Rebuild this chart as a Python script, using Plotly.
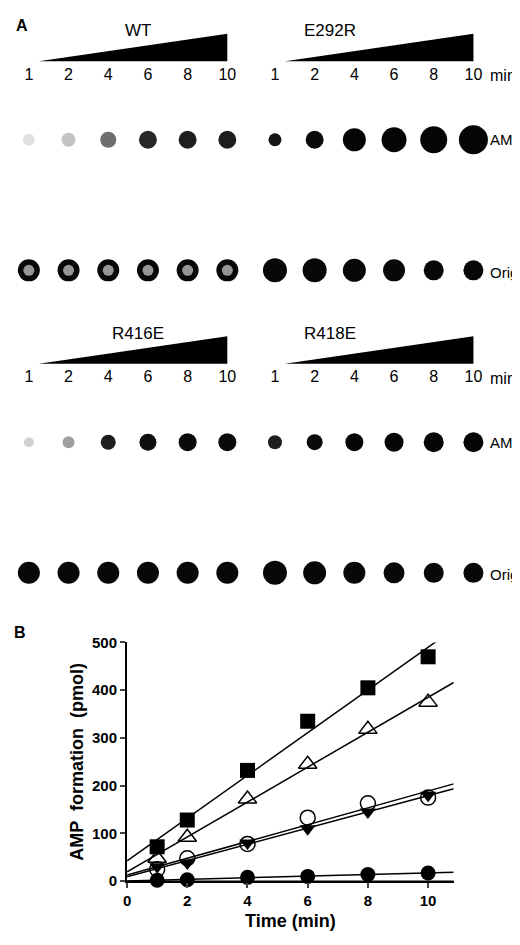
import numpy as np
import plotly.graph_objects as go

# ---- Panel B data ----
time = [1, 2, 4, 6, 8, 10]
sq_filled = [72, 128, 232, 335, 405, 470]
tri_up_open = [48, 92, 172, 245, 318, 375]
circ_open = [25, 48, 78, 133, 163, 175]
tri_down_filled = [30, 38, 80, 110, 145, 180]
circ_filled = [2, 3, 8, 10, 14, 17]
x_ticks = [0, 2, 4, 6, 8, 10]
y_ticks = [0, 100, 200, 300, 400, 500]

# ---- Panel A data (TLC) ----
lane_labels = ["1", "2", "4", "6", "8", "10"]
panels = ["WT", "E292R", "R416E", "R418E"]
amp_size = {"WT": [12, 14, 16, 18, 18, 18], "E292R": [13, 18, 23, 25, 27, 29],
            "R416E": [10, 12, 15, 17, 18, 18], "R418E": [14, 16, 18, 19, 20, 20]}
amp_grey = {"WT": [225, 195, 110, 40, 30, 30], "E292R": [20, 10, 5, 5, 5, 5],
            "R416E": [210, 160, 30, 15, 10, 10], "R418E": [30, 10, 5, 5, 5, 5]}
origin_size = {"WT": [22, 22, 22, 22, 22, 22], "E292R": [24, 24, 23, 22, 20, 20],
               "R416E": [22, 22, 22, 22, 22, 22], "R418E": [24, 23, 22, 21, 20, 20]}

fig = go.Figure()
FONT = "Liberation Sans"

panel_x0 = {"WT": 17, "E292R": 265, "R416E": 17, "R418E": 265}
lane_dx = 40
row_y = {"WT": 0, "E292R": 0, "R416E": 308, "R418E": 308}

for p in panels:
    xs = [panel_x0[p] + i * lane_dx for i in range(6)]
    y0 = row_y[p]
    fig.add_trace(go.Scatter(x=xs, y=[y0 + 60] * 6, mode="text", text=lane_labels,
                             textfont=dict(size=16, color="black", family=FONT),
                             xaxis="x", yaxis="y", showlegend=False))
    cols = [f"rgb({g},{g},{g})" for g in amp_grey[p]]
    fig.add_trace(go.Scatter(x=xs, y=[y0 + 125] * 6, mode="markers",
                             marker=dict(size=amp_size[p], color=cols, opacity=1, line=dict(width=0)),
                             xaxis="x", yaxis="y", showlegend=False))
    fig.add_trace(go.Scatter(x=xs, y=[y0 + 258] * 6, mode="markers",
                             marker=dict(size=origin_size[p], color="rgb(8,8,8)", opacity=1, line=dict(width=0)),
                             xaxis="x", yaxis="y", showlegend=False))
    if p == "WT":
        fig.add_trace(go.Scatter(x=xs, y=[y0 + 258] * 6, mode="markers",
                                 marker=dict(size=11, color="rgb(150,150,150)", opacity=1, line=dict(width=0)),
                                 xaxis="x", yaxis="y", showlegend=False))
    cx = (xs[0] + xs[-1]) / 2 + (10 if p in ("WT", "R416E") else -45)
    fig.add_annotation(x=cx, y=y0 + 14, text=p, showarrow=False, xref="x", yref="y",
                       font=dict(size=17, color="black", family=FONT))
    fig.add_shape(type="path", xref="x", yref="y",
                  path=f"M {xs[0]+10},{y0+45} L {xs[-1]},{y0+17} L {xs[-1]},{y0+45} Z",
                  fillcolor="black", line=dict(width=0))
    if p in ("E292R", "R418E"):
        for yy, t, s in [(60, "min", 16), (125, "AMP", 15), (260, "Origin", 15)]:
            fig.add_annotation(x=480, y=y0 + yy, text=t, showarrow=False, xref="x", yref="y",
                               xanchor="left", font=dict(size=s, color="black", family=FONT))

fig.add_annotation(x=10, y=9, text="<b>A</b>", showarrow=False, xref="x", yref="y",
                   font=dict(size=16, color="black", family=FONT))

# ---- Panel B ----
series = [
    (sq_filled, dict(symbol="square", size=15, color="black")),
    (tri_up_open, dict(symbol="triangle-up-open", size=16, color="black", line=dict(width=1.5))),
    (circ_open, dict(symbol="circle-open", size=15, color="black", line=dict(width=1.5))),
    (tri_down_filled, dict(symbol="triangle-down", size=14, color="black")),
    (circ_filled, dict(symbol="circle", size=15, color="black")),
]
xfit = np.array([0, 10.85])
for ys, mk in series:
    a, b = np.polyfit(time, ys, 1)
    fig.add_trace(go.Scatter(x=xfit, y=a * xfit + b, mode="lines", line=dict(color="black", width=1.5),
                             xaxis="x2", yaxis="y2", showlegend=False, cliponaxis=False))
    fig.add_trace(go.Scatter(x=time, y=ys, mode="markers", marker=mk,
                             xaxis="x2", yaxis="y2", showlegend=False, cliponaxis=False))
fig.add_trace(go.Scatter(x=xfit, y=[0, 0], mode="lines", line=dict(color="black", width=1.5),
                         xaxis="x2", yaxis="y2", showlegend=False, cliponaxis=False))

fig.add_annotation(text="<b>B</b>", x=8, y=627, xref="x", yref="y", showarrow=False,
                   font=dict(size=16, color="black", family=FONT))

fig.update_layout(
    width=520, height=945, margin=dict(l=0, r=0, t=0, b=0),
    paper_bgcolor="white", plot_bgcolor="white",
    xaxis=dict(domain=[0, 1], range=[0, 520], visible=False, fixedrange=True),
    yaxis=dict(domain=[0, 1], range=[945, 0], visible=False, fixedrange=True),
    xaxis2=dict(domain=[0.223, 0.856], range=[0, 10.85], anchor="y2",
                tickvals=x_ticks, ticktext=[f"<b>{v}</b>" for v in x_ticks],
                showline=True, linecolor="black", linewidth=2,
                ticks="outside", ticklen=5, tickwidth=2, showgrid=False, zeroline=False,
                tickfont=dict(size=15, color="black", family=FONT),
                title=dict(text="<b>Time (min)</b>", standoff=6,
                           font=dict(size=18, color="black", family=FONT))),
    yaxis2=dict(domain=[0.0688, 0.326], range=[0, 500], anchor="x2",
                tickvals=y_ticks, ticktext=[f"<b>{v}</b>" for v in y_ticks],
                showline=True, linecolor="black", linewidth=2,
                ticks="outside", ticklen=5, tickwidth=2, showgrid=False, zeroline=False,
                tickfont=dict(size=15, color="black", family=FONT),
                title=dict(text="<b>AMP  formation  (pmol)</b>", standoff=4,
                           font=dict(size=18, color="black", family=FONT))),
)
fig.write_html("out.html")
